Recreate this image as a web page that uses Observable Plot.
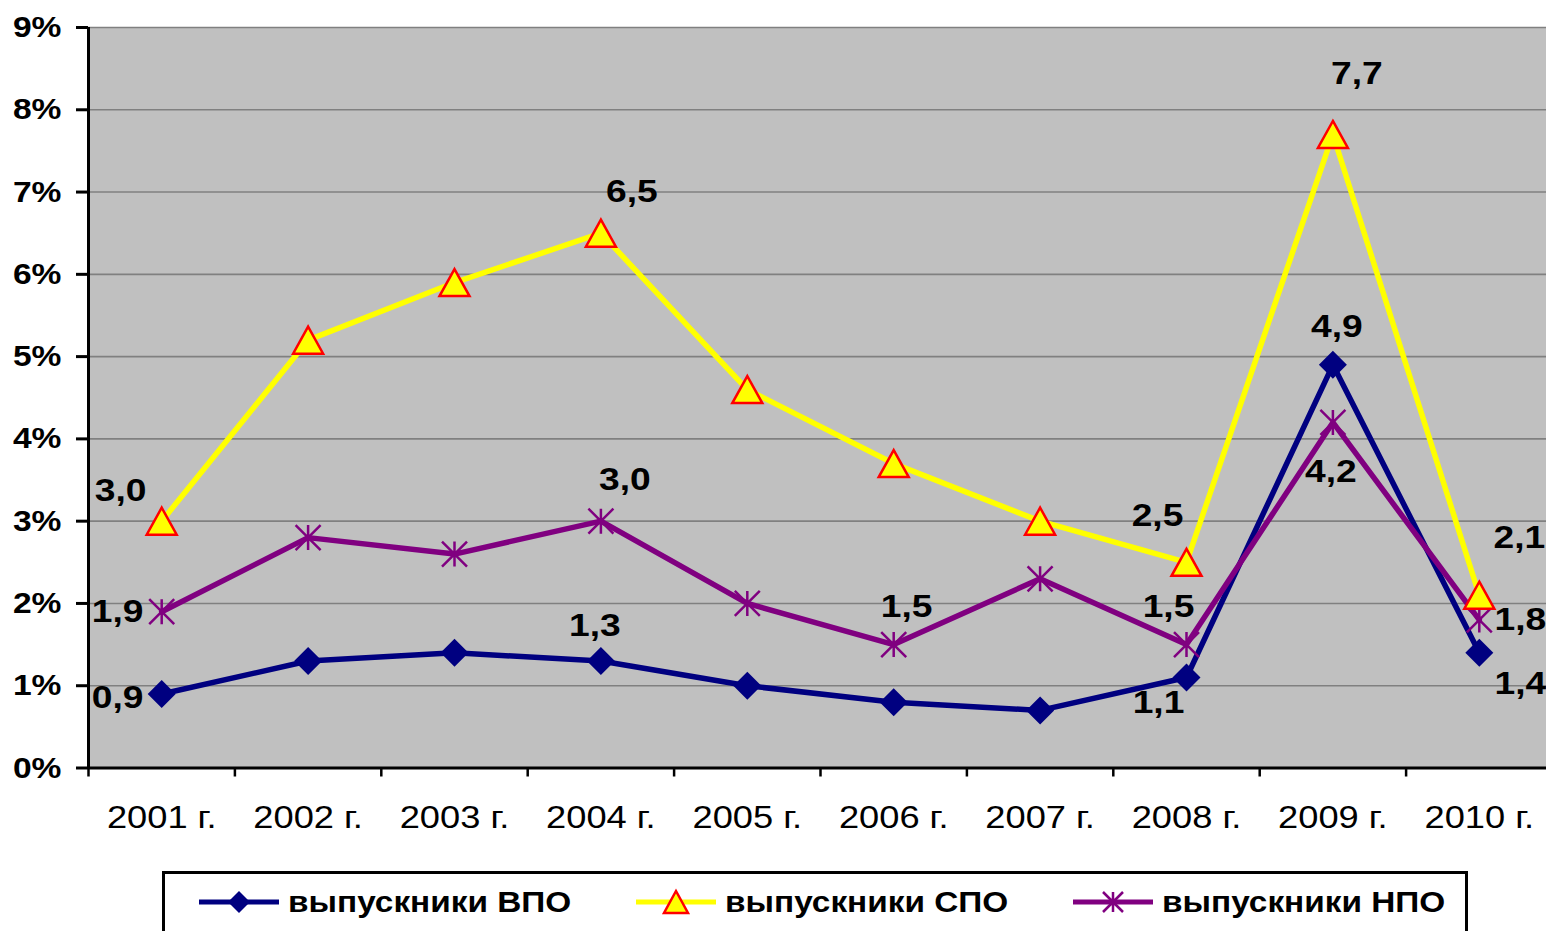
<!DOCTYPE html>
<html><head><meta charset="utf-8">
<script src="https://cdn.jsdelivr.net/npm/d3@7"></script>
<script src="https://cdn.jsdelivr.net/npm/@observablehq/plot@0.6"></script>
<style>
body{margin:0;background:#fff;font-family:"Liberation Sans",Arial,sans-serif;}
#wrap{position:relative;width:1546px;height:931px;overflow:hidden;background:#fff;}
#chart svg{display:block;}
g[aria-label="y-axis tick label"] text{font-weight:bold;}
#legend{position:absolute;left:162px;top:871px;width:1306px;height:80px;border:3px solid #000;box-sizing:border-box;background:#fff;}
.item{position:absolute;top:9px;height:38px;display:flex;align-items:center;}
.item svg{display:block;}
.item span{display:inline-block;font-weight:bold;font-size:29px;margin-left:9px;color:#000;white-space:nowrap;transform:scaleX(1.15);transform-origin:left center;}
</style></head>
<body><div id="wrap"><div id="chart"></div><div id="legend"></div></div>
<script>
// ---- data ----
const years = ["2001 г.","2002 г.","2003 г.","2004 г.","2005 г.","2006 г.","2007 г.","2008 г.","2009 г.","2010 г."];
const vpo = [0.9,1.3,1.4,1.3,1.0,0.8,0.7,1.1,4.9,1.4];
const spo = [3.0,5.2,5.9,6.5,4.6,3.7,3.0,2.5,7.7,2.1];
const npo = [1.9,2.8,2.6,3.0,2.0,1.5,2.3,1.5,4.2,1.8];
const seriesNames = ["выпускники ВПО","выпускники СПО","выпускники НПО"];
const yTicks = [0,1,2,3,4,5,6,7,8,9];
// which points carry a value label (indices into years)
const vpoLabeled = [0,3,7,8,9];
const spoLabeled = [0,3,7,8,9];
const npoLabeled = [0,3,5,7,8,9];

// ---- label placement (pixel offsets from the point) ----
const vpoOffsets = [[-44,4],[-6,-35],[-28,26],[4,-38],[41,31]];
const spoOffsets = [[-41,-30],[31,-41],[-29,-46],[24,-60],[40,-57]];
const npoOffsets = [[-44,0],[24,-41],[13,-38],[-18,-38],[-2,50],[41,0]];

const colors = {vpo:"#000080", spo:"#FFFF00", npo:"#800080"};

// custom Excel-like markers
const diamondSym = {draw(ctx,size){const r=Math.sqrt(size/Math.PI);ctx.moveTo(0,-r);ctx.lineTo(r,0);ctx.lineTo(0,r);ctx.lineTo(-r,0);ctx.closePath();}};
const triSym = {draw(ctx,size){const r=Math.sqrt(size/Math.PI);const h=r*0.9;ctx.moveTo(0,-h);ctx.lineTo(r,h);ctx.lineTo(-r,h);ctx.closePath();}};
const starSym = {draw(ctx,size){const r=Math.sqrt(size/Math.PI);ctx.moveTo(0,-r);ctx.lineTo(0,r);ctx.moveTo(-r,-r);ctx.lineTo(r,r);ctx.moveTo(-r,r);ctx.lineTo(r,-r);}};

const fmt = v => v.toFixed(1).replace(".", ",");
const X = (d,i) => i + 0.5;

function labelRows(values, idx, offs){
  return idx.map((k,j)=>({x:k+0.5, v:values[k], dx:offs[j][0], dy:offs[j][1]}));
}
const labels = [
  ...labelRows(vpo, vpoLabeled, vpoOffsets),
  ...labelRows(spo, spoLabeled, spoOffsets),
  ...labelRows(npo, npoLabeled, npoOffsets)
];

function labelMarks(rows){
  return rows.map(r => Plot.text([r], {x:"x", y:"v", text:d=>fmt(d.v), dx:r.dx, dy:r.dy,
    fontSize:31, fontWeight:"bold", fill:"black", textAnchor:"middle", lineAnchor:"middle", className:"vlab"}));
}

const H = 860;
const chart = Plot.plot({
  width:1546, height:H,
  marginLeft:88, marginRight:0, marginTop:27, marginBottom:H-767.5,
  style:{background:"white", fontFamily:"'Liberation Sans', Arial, sans-serif", color:"black"},
  x:{domain:[0,10], range:[88,1552]},
  y:{domain:[0,9], range:[767.5,27]},
  marks:[
    Plot.rect([0], {x1:()=>0, x2:()=>10, y1:()=>0, y2:()=>9, fill:"#C0C0C0"}),
    Plot.ruleY(yTicks.slice(1), {x1:()=>0, x2:()=>10, stroke:"#808080", strokeWidth:1.6}),
    Plot.axisY({ticks:yTicks, tickSize:12, tickPadding:15, tickFormat:d=>d+"%", fontSize:30, strokeWidth:3, label:null, stroke:"black", fill:"black"}),
    Plot.axisX({ticks:d3.range(11), tickSize:9, tickFormat:()=>"", strokeWidth:2.5, label:null, stroke:"black"}),
    Plot.ruleX([0], {y1:()=>0, y2:()=>9, stroke:"black", strokeWidth:3}),
    Plot.ruleY([0], {x1:()=>0, x2:()=>10, stroke:"black", strokeWidth:3}),
    Plot.text(years, {x:X, y:()=>0, dy:50, text:d=>d, fontSize:31, fill:"black", textAnchor:"middle", lineAnchor:"middle", className:"xlab"}),
    Plot.line(vpo, {x:X, y:d=>d, stroke:colors.vpo, strokeWidth:5.5, strokeLinejoin:"round"}),
    Plot.line(spo, {x:X, y:d=>d, stroke:colors.spo, strokeWidth:5.5, strokeLinejoin:"round"}),
    Plot.line(npo, {x:X, y:d=>d, stroke:colors.npo, strokeWidth:5.5, strokeLinejoin:"round"}),
    Plot.dot(vpo, {x:X, y:d=>d, r:14, symbol:diamondSym, fill:colors.vpo, stroke:"none"}),
    Plot.dot(npo, {x:X, y:d=>d, r:12.5, symbol:starSym, fill:"none", stroke:colors.npo, strokeWidth:2.5}),
    Plot.dot(spo, {x:X, y:d=>d, r:15, symbol:triSym, fill:colors.spo, stroke:"#FF0000", strokeWidth:2.5}),
    ...labelMarks(labels)
  ]
});
document.getElementById("chart").appendChild(chart);

// widen the glyphs horizontally (the source font is drawn wider than Arial)
function stretch(sel, s){
  chart.querySelectorAll(sel).forEach(t=>{
    const xa = parseFloat(t.getAttribute("x")) || 0;
    const tr = t.getAttribute("transform") || "";
    t.setAttribute("transform", `${tr} translate(${xa},0) scale(${s},1) translate(${-xa},0)`);
  });
}
stretch(".xlab text", 1.17);
stretch(".vlab text", 1.2);
stretch('g[aria-label="y-axis tick label"] text', 1.12);

// ---- legend ----
const legendItems = [
  {name:seriesNames[0], color:colors.vpo, left:34,
   marker:'<path d="M40,8 L51,19 L40,30 L29,19 Z" fill="#000080"/>'},
  {name:seriesNames[1], color:colors.spo, left:471,
   marker:'<path d="M40,8 L52,30 L28,30 Z" fill="#FFFF00" stroke="#FF0000" stroke-width="2.5"/>'},
  {name:seriesNames[2], color:colors.npo, left:908,
   marker:'<path d="M40,9 L40,29 M30,9 L50,29 M30,29 L50,9" stroke="#800080" stroke-width="2.5" fill="none"/>'}
];
const lg = document.getElementById("legend");
legendItems.forEach(it=>{
  const div = document.createElement("div");
  div.className = "item";
  div.style.left = it.left + "px";
  div.innerHTML = `<svg width="80" height="38"><line x1="0" x2="80" y1="19" y2="19" stroke="${it.color}" stroke-width="5"/>${it.marker}</svg><span>${it.name}</span>`;
  lg.appendChild(div);
});
</script>
</body></html>
